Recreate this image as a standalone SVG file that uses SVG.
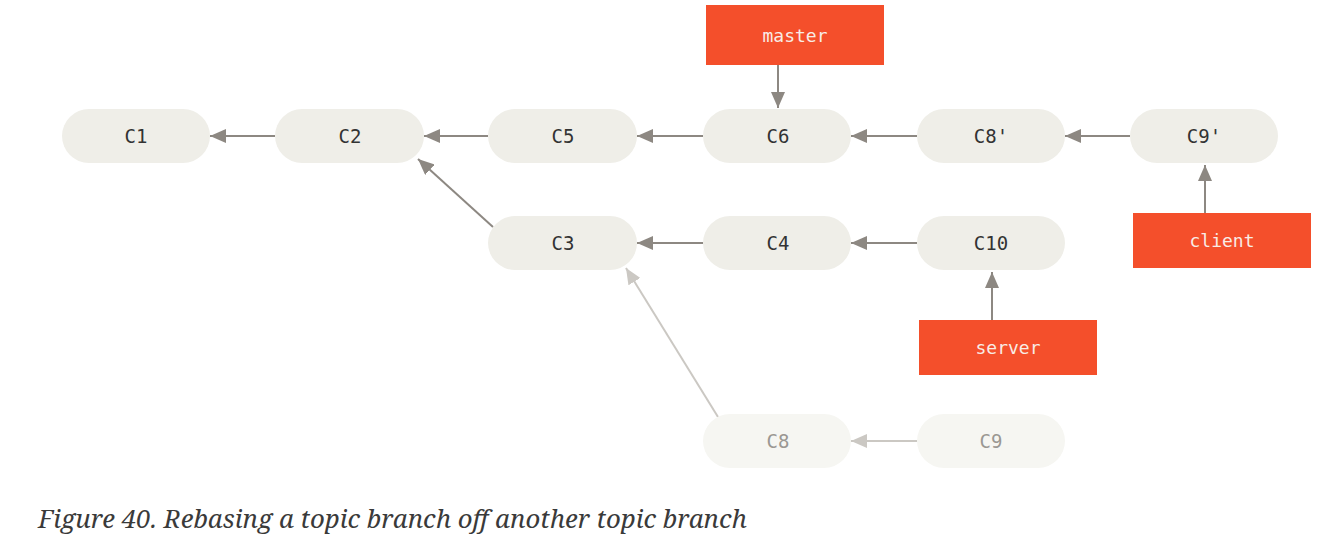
<svg xmlns="http://www.w3.org/2000/svg" width="1336" height="547" viewBox="0 0 1336 547">
<style>
.node rect{fill:#efeee8}
.node text{font-family:"DejaVu Sans Mono","Liberation Mono",monospace;font-size:19px;fill:#333;text-anchor:middle;dominant-baseline:central}
.faded rect{fill:#f6f6f2}
.faded text{fill:#9b9893}
.ref rect{fill:#f44f2b}
.ref text{font-family:"DejaVu Sans Mono","Liberation Mono",monospace;font-size:18px;fill:#f8ece6;text-anchor:middle;dominant-baseline:central}
.edge{stroke:#8d8882;stroke-width:2;fill:none;marker-end:url(#ah)}
.edge.f{stroke:#cbc8c3;marker-end:url(#ahf)}
.cap{font-family:"Noto Serif","DejaVu Serif","Liberation Serif",serif;font-style:italic;font-size:25px;fill:#3a3a3a}
</style>
<defs>
<marker id="ah" markerUnits="userSpaceOnUse" markerWidth="16" markerHeight="14" refX="16" refY="7" orient="auto"><path d="M0,0 L16,7 L0,14 z" fill="#8d8882"/></marker>
<marker id="ahf" markerUnits="userSpaceOnUse" markerWidth="16" markerHeight="14" refX="16" refY="7" orient="auto"><path d="M0,0 L16,7 L0,14 z" fill="#cbc8c3"/></marker>
</defs>
<g id="connectors">
<line class="edge" x1="275" y1="136" x2="210" y2="136"/>
<line class="edge" x1="488" y1="136" x2="424" y2="136"/>
<line class="edge" x1="703" y1="136" x2="637" y2="136"/>
<line class="edge" x1="917" y1="136" x2="851" y2="136"/>
<line class="edge" x1="1130" y1="136" x2="1065" y2="136"/>
<line class="edge" x1="493" y1="227" x2="418" y2="159"/>
<line class="edge" x1="703" y1="243" x2="637" y2="243"/>
<line class="edge" x1="917" y1="243" x2="851" y2="243"/>
<line class="edge" x1="778" y1="65" x2="778" y2="108"/>
<line class="edge" x1="1205" y1="213" x2="1205" y2="165"/>
<line class="edge" x1="992" y1="320" x2="992" y2="272"/>
<line class="edge f" x1="718" y1="417" x2="626" y2="268"/>
<line class="edge f" x1="917" y1="441" x2="851" y2="441"/>
</g>
<g id="C1" class="node"><rect x="62" y="109" width="148" height="54" rx="27"/><text x="136" y="136">C1</text></g>
<g id="C2" class="node"><rect x="275" y="109" width="149" height="54" rx="27"/><text x="350" y="136">C2</text></g>
<g id="C5" class="node"><rect x="488" y="109" width="149" height="54" rx="27"/><text x="563" y="136">C5</text></g>
<g id="C6" class="node"><rect x="703" y="109" width="148" height="54" rx="27"/><text x="778" y="136">C6</text></g>
<g id="C8p" class="node"><rect x="917" y="109" width="148" height="54" rx="27"/><text x="991" y="136">C8'</text></g>
<g id="C9p" class="node"><rect x="1130" y="109" width="148" height="54" rx="27"/><text x="1204" y="136">C9'</text></g>
<g id="C3" class="node"><rect x="488" y="216" width="149" height="54" rx="27"/><text x="563" y="243">C3</text></g>
<g id="C4" class="node"><rect x="703" y="216" width="148" height="54" rx="27"/><text x="778" y="243">C4</text></g>
<g id="C10" class="node"><rect x="917" y="216" width="148" height="54" rx="27"/><text x="991" y="243">C10</text></g>
<g id="C8" class="node faded"><rect x="703" y="414" width="148" height="54" rx="27"/><text x="778" y="441">C8</text></g>
<g id="C9" class="node faded"><rect x="917" y="414" width="148" height="54" rx="27"/><text x="991" y="441">C9</text></g>
<g id="master" class="ref"><rect x="706" y="5" width="178" height="60"/><text x="795" y="35">master</text></g>
<g id="client" class="ref"><rect x="1133" y="213" width="178" height="55"/><text x="1222" y="240">client</text></g>
<g id="server" class="ref"><rect x="919" y="320" width="178" height="55"/><text x="1008" y="347">server</text></g>
<text class="cap" x="38" y="528" textLength="709" lengthAdjust="spacingAndGlyphs">Figure 40. Rebasing a topic branch off another topic branch</text>
</svg>
